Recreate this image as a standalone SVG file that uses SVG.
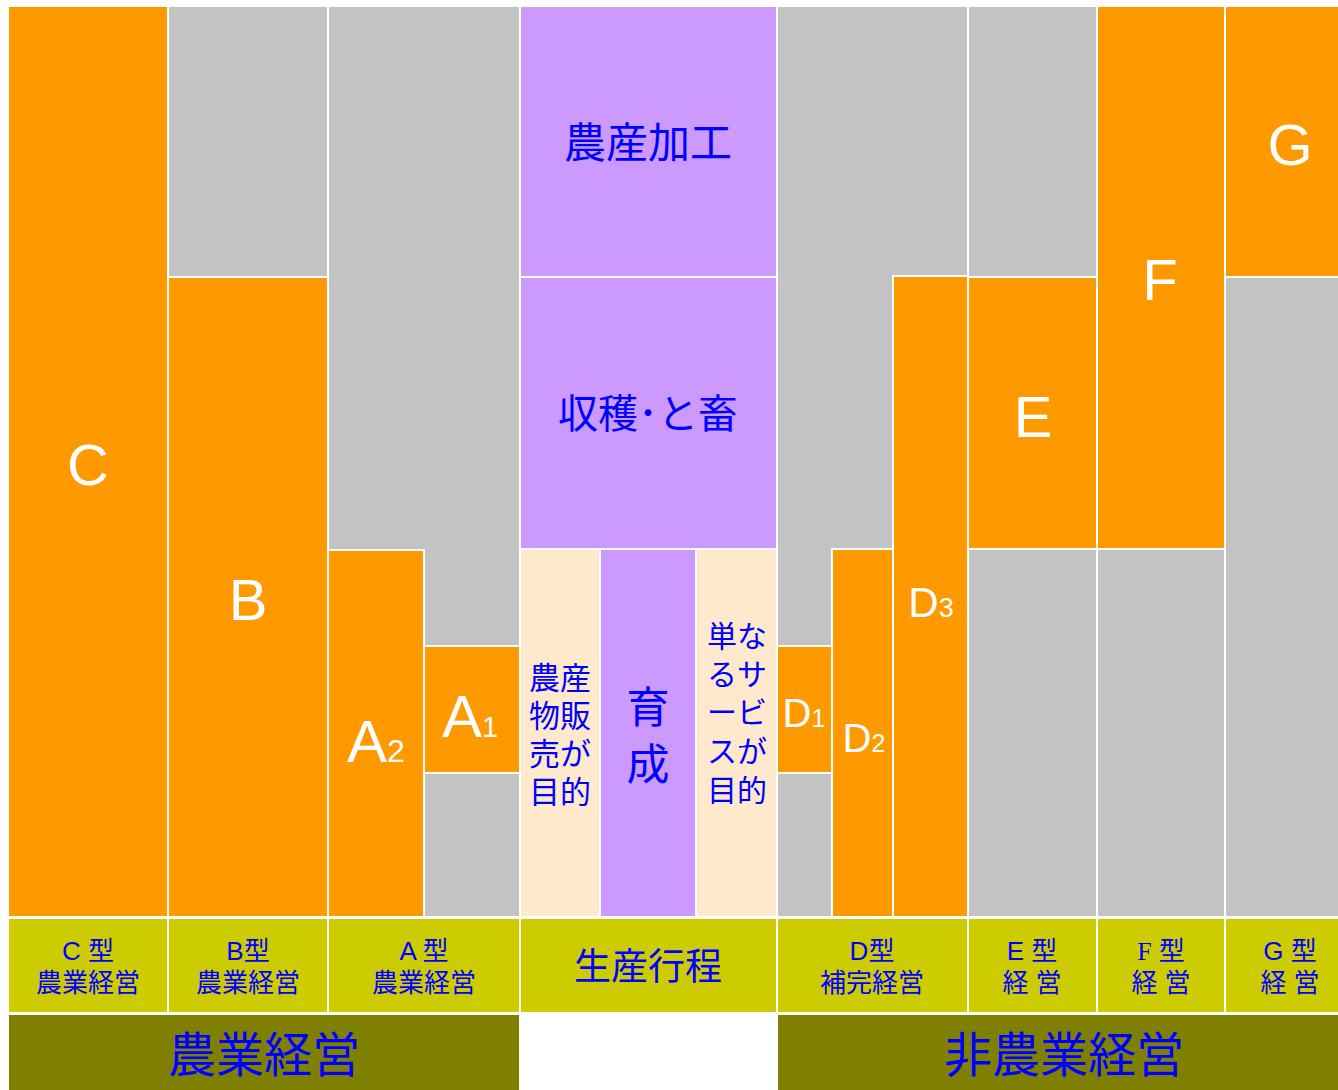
<svg xmlns="http://www.w3.org/2000/svg" width="1338" height="1090" viewBox="0 0 1338 1090">
<style>
rect{stroke:#ffffff;stroke-width:2}
.o{fill:#ff9900}.g{fill:#c3c3c3}.p{fill:#cc99ff}.c{fill:#ffe9cc}.y{fill:#cccc00}.v{fill:#808000}
.L{font-family:"Liberation Sans",Arial,sans-serif;fill:#ffffff;text-anchor:middle}
.J{font-family:"Liberation Sans","Noto Sans CJK JP",sans-serif;fill:#0000ff;text-anchor:middle;dominant-baseline:central}
</style>
<rect x="0" y="0" width="1338" height="1090" style="fill:#ffffff;stroke:none"/>
<g id="col-C">
<rect class="o" x="8" y="6" width="160" height="911"/>
<text class="L" x="88" y="485" font-size="58">C</text>
</g>
<g id="col-B">
<rect class="g" x="168" y="6" width="160" height="271"/>
<rect class="o" x="168" y="277" width="160" height="640"/>
<text class="L" x="248" y="620" font-size="58">B</text>
</g>
<g id="col-A">
<rect class="g" x="328" y="6" width="192" height="911"/>
<rect class="o" x="328" y="550" width="96" height="367"/>
<rect class="o" x="424" y="646" width="96" height="127"/>
<text class="L" x="376" y="762" font-size="60">A<tspan font-size="32">2</tspan></text>
<text class="L" x="470" y="737" font-size="60">A<tspan font-size="29">1</tspan></text>
</g>
<g id="center">
<rect class="p" x="520" y="6" width="257" height="271"/>
<rect class="p" x="520" y="277" width="257" height="272"/>
<rect class="c" x="520" y="549" width="80" height="368"/>
<rect class="p" x="600" y="549" width="96" height="368"/>
<rect class="c" x="696" y="549" width="81" height="368"/>
<text class="J" x="648" y="143" font-size="42">農産加工</text>
<text class="J" x="648" y="414" font-size="40">収穫･と畜</text>
<text class="J" x="648" y="708" font-size="43">育</text>
<text class="J" x="648" y="765" font-size="43">成</text>
<text class="J" x="560" y="678" font-size="31">農産</text>
<text class="J" x="560" y="716" font-size="31">物販</text>
<text class="J" x="560" y="754" font-size="31">売が</text>
<text class="J" x="560" y="792" font-size="31">目的</text>
<text class="J" x="737" y="636" font-size="30">単な</text>
<text class="J" x="737" y="674" font-size="30">るサ</text>
<text class="J" x="737" y="712" font-size="30">ービ</text>
<text class="J" x="737" y="751" font-size="30">スが</text>
<text class="J" x="737" y="790" font-size="30">目的</text>
</g>
<g id="col-D">
<rect class="g" x="777" y="6" width="191" height="911"/>
<rect class="o" x="777" y="646" width="55" height="127"/>
<rect class="o" x="832" y="549" width="61" height="368"/>
<rect class="o" x="893" y="276" width="75" height="641"/>
<text class="L" x="804" y="727" font-size="40">D<tspan font-size="25">1</tspan></text>
<text class="L" x="864" y="752" font-size="40">D<tspan font-size="25">2</tspan></text>
<text class="L" x="931" y="617" font-size="42">D<tspan font-size="27">3</tspan></text>
</g>
<g id="col-E">
<rect class="g" x="968" y="6" width="129" height="271"/>
<rect class="o" x="968" y="277" width="129" height="272"/>
<rect class="g" x="968" y="549" width="129" height="368"/>
<text class="L" x="1033" y="437" font-size="58">E</text>
</g>
<g id="col-F">
<rect class="o" x="1097" y="6" width="128" height="543"/>
<rect class="g" x="1097" y="549" width="128" height="368"/>
<text class="L" x="1160" y="300" font-size="58">F</text>
</g>
<g id="col-G">
<rect class="o" x="1225" y="6" width="115" height="271"/>
<rect class="g" x="1225" y="277" width="115" height="640"/>
<text class="L" x="1290" y="165" font-size="58">G</text>
</g>
<g id="footer">
<rect class="y" x="8" y="918" width="160" height="95"/>
<rect class="y" x="168" y="918" width="160" height="95"/>
<rect class="y" x="328" y="918" width="192" height="95"/>
<rect class="y" x="520" y="918" width="257" height="95"/>
<rect class="y" x="777" y="918" width="191" height="95"/>
<rect class="y" x="968" y="918" width="129" height="95"/>
<rect class="y" x="1097" y="918" width="128" height="95"/>
<rect class="y" x="1225" y="918" width="115" height="95"/>
<text class="J" x="88" y="951" font-size="26">C 型</text>
<text class="J" x="88" y="983" font-size="26">農業経営</text>
<text class="J" x="248" y="951" font-size="26">B型</text>
<text class="J" x="248" y="983" font-size="26">農業経営</text>
<text class="J" x="424" y="951" font-size="26">A 型</text>
<text class="J" x="424" y="983" font-size="26">農業経営</text>
<text class="J" x="648" y="967" font-size="37">生産行程</text>
<text class="J" x="872" y="951" font-size="26">D型</text>
<text class="J" x="872" y="983" font-size="26">補完経営</text>
<text class="J" x="1032" y="951" font-size="26">E 型</text>
<text class="J" x="1032" y="983" font-size="26">経 営</text>
<text class="J" x="1161" y="951" font-size="26"><tspan font-family="Liberation Serif">F</tspan> 型</text>
<text class="J" x="1161" y="983" font-size="26">経 営</text>
<text class="J" x="1290" y="951" font-size="26">G 型</text>
<text class="J" x="1290" y="983" font-size="26">経 営</text>
</g>
<g id="bottom">
<rect class="v" x="8" y="1014" width="512" height="80"/>
<rect class="v" x="777" y="1014" width="563" height="80"/>
<text class="J" x="264" y="1055" font-size="48">農業経営</text>
<text class="J" x="1064" y="1055" font-size="48">非農業経営</text>
</g>
</svg>
